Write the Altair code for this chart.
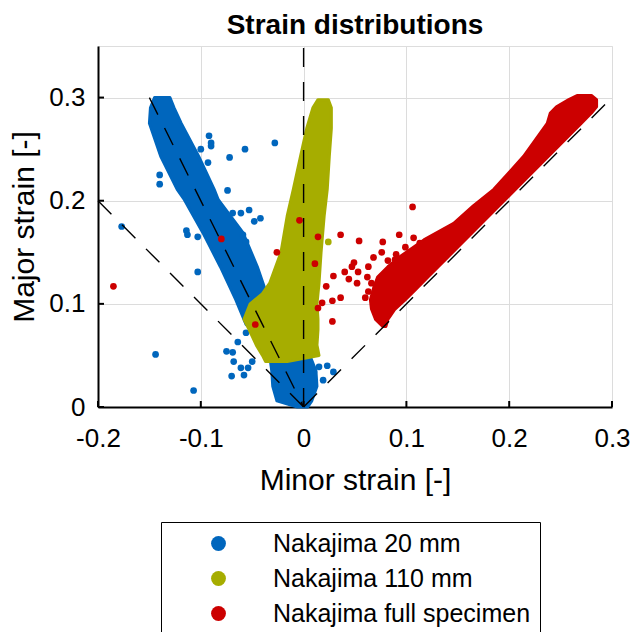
import altair as alt
import pandas as pd

# ---------------- data ----------------
series = ["Nakajima 20 mm", "Nakajima 110 mm", "Nakajima full specimen"]
colors = ["#0066BD", "#A6AD00", "#CC0000"]

# dense point clouds, outlined as bands: for each major strain, min/max minor strain
blue_band_y = [0.000, 0.006, 0.020, 0.035, 0.050, 0.060, 0.070, 0.080, 0.104, 0.136, 0.169, 0.201, 0.211, 0.243, 0.275, 0.290, 0.300]
blue_band_xl = [-0.006, -0.026, -0.030, -0.031, -0.033, -0.037, -0.045, -0.056, -0.066, -0.081, -0.098, -0.116, -0.123, -0.139, -0.150, -0.149, -0.145]
blue_band_xr = [0.004, 0.008, 0.013, 0.012, 0.006, 0.004, -0.008, -0.018, -0.034, -0.045, -0.059, -0.083, -0.087, -0.102, -0.119, -0.126, -0.130]

yellow_band_y = [0.044, 0.050, 0.060, 0.075, 0.085, 0.100, 0.110, 0.120, 0.150, 0.185, 0.211, 0.243, 0.270, 0.290, 0.298]
yellow_band_xl = [-0.037, -0.040, -0.046, -0.053, -0.058, -0.052, -0.040, -0.033, -0.022, -0.016, -0.010, -0.003, 0.003, 0.009, 0.014]
yellow_band_xr = [-0.016, 0.015, 0.013, 0.014, 0.014, 0.013, 0.014, 0.015, 0.017, 0.020, 0.023, 0.025, 0.027, 0.027, 0.024]

red_band_y = [0.078, 0.085, 0.095, 0.104, 0.115, 0.126, 0.136, 0.146, 0.162, 0.178, 0.195, 0.211, 0.243, 0.275, 0.285, 0.291, 0.298, 0.302]
red_band_xl = [0.077, 0.070, 0.066, 0.065, 0.068, 0.072, 0.082, 0.094, 0.117, 0.146, 0.165, 0.185, 0.214, 0.237, 0.240, 0.246, 0.258, 0.266]
red_band_xr = [0.080, 0.082, 0.089, 0.099, 0.110, 0.121, 0.131, 0.141, 0.157, 0.173, 0.190, 0.206, 0.238, 0.270, 0.280, 0.285, 0.285, 0.280]

# scattered outlier points
blue_pts_x = [-0.177, -0.144, -0.107, -0.103, -0.092, -0.090, -0.093, -0.057, -0.072, -0.028, -0.074, -0.053,
              -0.061, -0.042, -0.048, -0.140, -0.140, -0.114, -0.113, -0.103, -0.069, -0.056, -0.059, -0.075,
              -0.069, -0.068, -0.061, -0.058, -0.070, -0.064, -0.056, -0.050, 0.015, 0.023, 0.019, 0.010,
              0.029, -0.054, -0.090, -0.100]
blue_pts_y = [0.175, 0.051, 0.016, 0.131, 0.263, 0.253, 0.237, 0.250, 0.242, 0.256, 0.210, 0.191,
              0.188, 0.183, 0.180, 0.225, 0.216, 0.171, 0.167, 0.165, 0.188, 0.160, 0.167, 0.054,
              0.053, 0.044, 0.038, 0.031, 0.030, 0.063, 0.072, 0.044, 0.039, 0.040, 0.026, 0.034,
              0.034, 0.038, 0.256, 0.250]

yellow_pts_x = [0.024]
yellow_pts_y = [0.160]

red_pts_x = [-0.185, -0.080, -0.004, 0.014, -0.026, -0.047, 0.011, 0.014, 0.018, 0.106, 0.036, 0.054,
             0.077, 0.093, 0.107, 0.113, 0.076, 0.090, 0.099, 0.068, 0.049, 0.040, 0.053, 0.029,
             0.044, 0.052, 0.063, 0.062, 0.022, 0.082, 0.089, 0.063, 0.060, 0.036, 0.028, 0.028,
             0.066, 0.047]
red_pts_y = [0.117, 0.163, 0.181, 0.165, 0.150, 0.080, 0.139, 0.096, 0.101, 0.194, 0.167, 0.161,
             0.160, 0.167, 0.164, 0.159, 0.150, 0.148, 0.155, 0.145, 0.140, 0.131, 0.131, 0.127,
             0.124, 0.120, 0.136, 0.126, 0.117, 0.142, 0.143, 0.112, 0.106, 0.106, 0.103, 0.083,
             0.120, 0.136]

# dashed reference lines (strain paths)
guide_id = ["a", "a", "b", "b", "c", "c", "d", "d"]
guide_x = [-0.15, 0.0, -0.2, 0.0, 0.0, 0.0, 0.0, 0.3]
guide_y = [0.30, 0.0, 0.20, 0.0, 0.0, 0.35, 0.0, 0.3]

x_ticks = [-0.2, -0.1, 0.0, 0.1, 0.2, 0.3]
y_ticks = [0.0, 0.1, 0.2, 0.3]
x_domain = [-0.2, 0.3]
y_domain = [0.0, 0.35]

# ---------------- chart ----------------
FONT = "Liberation Sans"
W, H = 514, 361

xscale = alt.Scale(domain=x_domain, nice=False, zero=False)
yscale = alt.Scale(domain=y_domain, nice=False, zero=False)

label_expr = ("abs(datum.value) < 1e-9 ? '0' : (datum.value < 0 ? '-' + format(-datum.value, '.1f') "
              ": format(datum.value, '.1f'))")

x_axis = alt.Axis(values=x_ticks, labelExpr=label_expr, title="Minor strain [-]", grid=True,
                  gridColor="#dcdcdc", gridWidth=1, ticks=False, labelPadding=18, titlePadding=14,
                  labelFontSize=26, titleFontSize=30, labelFont=FONT, titleFont=FONT,
                  titleFontWeight="normal", labelColor="black", titleColor="black",
                  domainColor="black", domainWidth=2, labelFlush=False, labelOverlap=False)
y_axis = alt.Axis(values=y_ticks, labelExpr=label_expr, title="Major strain [-]", grid=True,
                  gridColor="#dcdcdc", gridWidth=1, ticks=False, labelPadding=13, titlePadding=9,
                  labelFontSize=26, titleFontSize=30, labelFont=FONT, titleFont=FONT,
                  titleFontWeight="normal", labelColor="black", titleColor="black",
                  domainColor="black", domainWidth=2, labelFlush=False, labelOverlap=False)

legend = alt.Legend(title=None, orient="none", legendX=63, legendY=476, symbolType="circle",
                    symbolSize=220, symbolStrokeWidth=0, symbolOffset=36, labelOffset=42,
                    labelFont=FONT, labelFontSize=25, labelColor="black", labelLimit=500,
                    padding=9, rowPadding=9, strokeColor="black", fillColor="white")
color_scale = alt.Scale(domain=series, range=colors)


def color_enc():
    return alt.Color("series:N", scale=color_scale, legend=legend, sort=series)


def X(field):
    return alt.X(field, scale=xscale, axis=x_axis)


def Y(field):
    return alt.Y(field, scale=yscale, axis=y_axis)


def band_layer(name, ys, xl, xr):
    df = pd.DataFrame({"y": ys, "xl": xl, "xr": xr, "series": name})
    return alt.Chart(df).mark_area(orient="horizontal", strokeWidth=3, strokeJoin="round",
                                   opacity=1).encode(
        y=Y("y:Q"),
        x=X("xl:Q"),
        x2="xr:Q",
        color=color_enc(),
        stroke=alt.Stroke("series:N", scale=color_scale, legend=None),
    )


def pts_layer(name, xs, ys):
    df = pd.DataFrame({"x": xs, "y": ys, "series": name})
    return alt.Chart(df).mark_circle(size=45, opacity=1).encode(
        x=X("x:Q"),
        y=Y("y:Q"),
        color=color_enc(),
    )


guides = pd.DataFrame({"id": guide_id, "x": guide_x, "y": guide_y,
                       "ord": list(range(len(guide_id)))})
guide_layer = alt.Chart(guides).mark_line(color="black", strokeWidth=1.4,
                                          strokeDash=[19, 15]).encode(
    x=X("x:Q"),
    y=Y("y:Q"),
    detail="id:N",
    order="ord:Q",
)

xt = pd.DataFrame({"v": x_ticks})
yt = pd.DataFrame({"v": y_ticks})
xtick_layer = alt.Chart(xt).mark_rule(color="black", strokeWidth=2).encode(
    x=X("v:Q"), y=alt.value(H), y2=alt.value(H - 6))
ytick_layer = alt.Chart(yt).mark_rule(color="black", strokeWidth=2).encode(
    y=Y("v:Q"), x=alt.value(0), x2=alt.value(6))

chart = alt.layer(
    band_layer(series[0], blue_band_y, blue_band_xl, blue_band_xr),
    pts_layer(series[0], blue_pts_x, blue_pts_y),
    band_layer(series[1], yellow_band_y, yellow_band_xl, yellow_band_xr),
    pts_layer(series[1], yellow_pts_x, yellow_pts_y),
    band_layer(series[2], red_band_y, red_band_xl, red_band_xr),
    pts_layer(series[2], red_pts_x, red_pts_y),
    guide_layer,
    xtick_layer,
    ytick_layer,
).properties(
    width=W,
    height=H,
    title=alt.Title("Strain distributions", fontSize=28, fontWeight="bold", font=FONT,
                    anchor="middle", offset=3, color="black"),
    autosize=alt.AutoSizeParams(type="none"),
    padding={"left": 98, "top": 46, "right": 22, "bottom": 225},
).configure_view(stroke=None).configure(background="white")

chart.save("out.html", embed_options={"renderer": "svg", "actions": False})
